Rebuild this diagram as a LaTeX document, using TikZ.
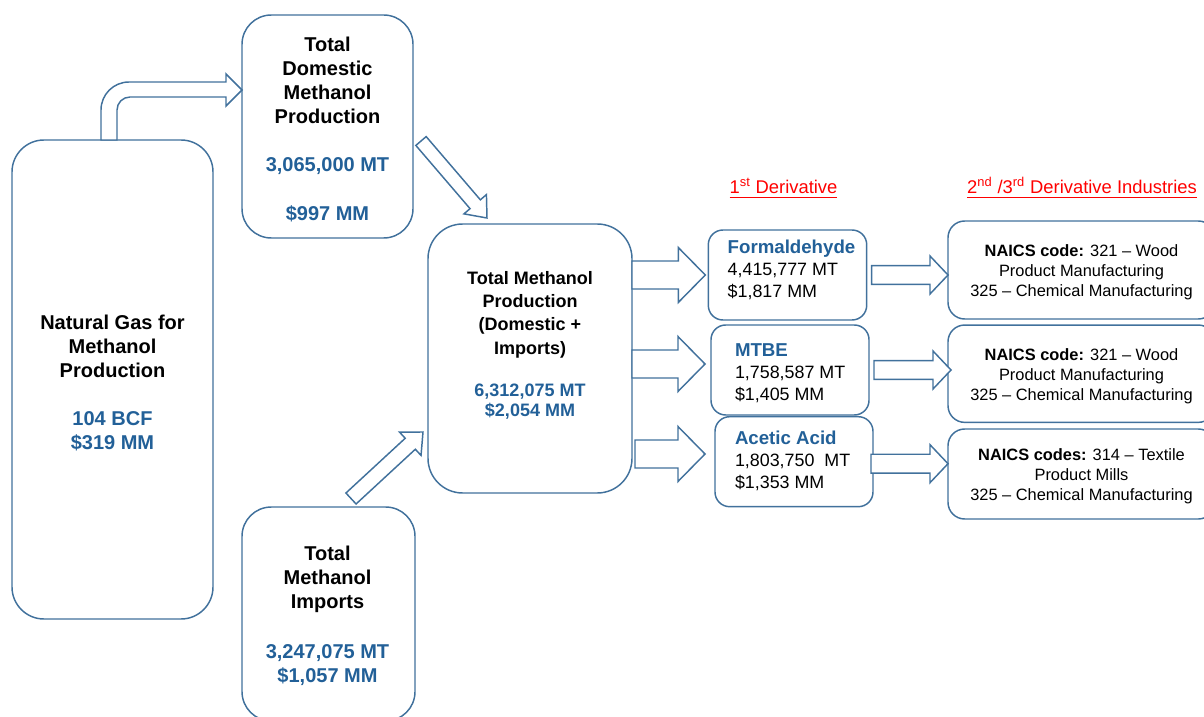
\documentclass[tikz,border=0pt]{standalone}
\usepackage{fontspec}
\setmainfont{Liberation Sans}
\usetikzlibrary{calc}

\definecolor{edgeblue}{RGB}{65,113,156}
\definecolor{valblue}{RGB}{34,96,152}
\definecolor{hdrred}{RGB}{255,0,0}

\tikzset{
  box/.style={draw=edgeblue, line width=1.1pt, fill=white, rectangle,
    inner sep=0pt, outer sep=0pt},
  txt/.style={inner sep=0pt, outer sep=0pt, align=center},
  arrowshape/.style={draw=edgeblue, line width=1.1pt, fill=white, line join=miter},
  bigtxt/.style={txt, font=\fontsize{15}{18}\selectfont\bfseries},
  midtxt/.style={txt, font=\fontsize{13.5}{17.5}\selectfont\bfseries},
  dertxt/.style={txt, align=left, anchor=west, font=\fontsize{13.4}{16.5}\selectfont},
  naicstxt/.style={txt, font=\fontsize{12.3}{15}\selectfont},
  hdrtxt/.style={inner sep=0pt, outer sep=0pt, anchor=base, text=hdrred,
    font=\fontsize{13.8}{16}\selectfont},
}

% straight block arrow: tail, tip, shaft half width, head half width, head length
\newcommand\blockarrow[5]{%
  \coordinate (ba-h) at ($(#2)!#5!(#1)$);
  \draw[arrowshape]
    ($(#1)!#3!90:(#2)$) -- ($(ba-h)!#3!90:(#2)$) -- ($(ba-h)!#4!90:(#2)$) -- (#2)
    -- ($(ba-h)!#4!-90:(#2)$) -- ($(ba-h)!#3!-90:(#2)$) -- ($(#1)!#3!-90:(#2)$) -- cycle;
}

\newcommand\val[1]{\textcolor{valblue}{#1}}

\begin{document}
\begin{tikzpicture}[x=0.75pt,y=-0.75pt]
\useasboundingbox (0,0) rectangle (1204,717);
\clip (0,0) rectangle (1204,717);

% ---- boxes ----
\node[box, rounded corners=24pt, minimum width=150.75pt, minimum height=359.25pt] (ng) at (112.5,379.5) {};
\node[box, rounded corners=22pt, minimum width=128.25pt, minimum height=167.25pt] (dom) at (327.5,126.5) {};
\node[box, rounded corners=22pt, minimum width=129.75pt, minimum height=160.5pt] (imp) at (328.5,614) {};
\node[box, rounded corners=26pt, minimum width=153pt, minimum height=201.75pt] (tot) at (530,358.5) {};

\node[box, rounded corners=11pt, minimum width=118.8pt, minimum height=67.5pt] (form) at (787.5,275) {};
\node[box, rounded corners=11pt, minimum width=118.5pt, minimum height=67.5pt] (mtbe) at (790,370) {};
\node[box, rounded corners=11pt, minimum width=118.5pt, minimum height=67.5pt] (acet) at (794,461.7) {};

\node[box, rounded corners=12.5pt, minimum width=200.25pt, minimum height=73.5pt] (n1) at (1081.5,270) {};
\node[box, rounded corners=12.5pt, minimum width=200.25pt, minimum height=73pt] (n2) at (1081.5,373.7) {};
\node[box, rounded corners=12.5pt, minimum width=200.25pt, minimum height=67.5pt] (n3) at (1081.5,474) {};

% ---- box texts ----
\node[bigtxt] (ngt) at (112.5,383) {Natural Gas for\\Methanol\\Production\\[18pt]\val{104 BCF}\\\val{\$319 MM}};
\node[bigtxt] (domt) at (327.5,129.5) {Total\\Domestic\\Methanol\\Production\\[18pt]\val{3,065,000 MT}\\[18.5pt]\val{\$997 MM}};
\node[bigtxt] (impt) at (327.5,616) {Total\\Methanol\\Imports\\[19.5pt]\val{3,247,075 MT}\\\val{\$1,057 MM}};
\node[midtxt] (tott) at (530,345) {Total Methanol\\Production\\(Domestic +\\Imports)\\[14pt]\val{6,312,075 MT}\\[-2.5pt]\val{\$2,054 MM}};

\node[dertxt] (formt) at (727.7,270) {{\fontsize{14}{16.5}\selectfont\bfseries\val{Formaldehyde}}\\4,415,777 MT\\\$1,817 MM};
\node[dertxt] (mtbet) at (735,373) {{\fontsize{14}{16.5}\selectfont\bfseries\val{MTBE}}\\1,758,587 MT\\\$1,405 MM};
\node[dertxt] (acett) at (735,460.5) {{\fontsize{14}{16.5}\selectfont\bfseries\val{Acetic Acid}}\\1,803,750~~MT\\\$1,353 MM};

\node[naicstxt] (n1t) at (1081.5,272) {\textbf{NAICS code:} 321 – Wood\\Product Manufacturing\\325 – Chemical Manufacturing};
\node[naicstxt] (n2t) at (1081.5,376) {\textbf{NAICS code:} 321 – Wood\\Product Manufacturing\\325 – Chemical Manufacturing};
\node[naicstxt] (n3t) at (1081.5,476) {\textbf{NAICS codes:} 314 – Textile\\Product Mills\\325 – Chemical Manufacturing};

% ---- column headings ----
\node[hdrtxt] (h1) at (783.5,193.5) {1\textsuperscript{st} Derivative};
\node[hdrtxt] (h2) at (1082,193.5) {2\textsuperscript{nd} /3\textsuperscript{rd} Derivative Industries};
\draw[hdrred, line width=0.9pt] ([yshift=-3.2pt]h1.base west) -- ([yshift=-3.2pt]h1.base east);
\draw[hdrred, line width=0.9pt] ([yshift=-3.2pt]h2.base west) -- ([yshift=-3.2pt]h2.base east);

% ---- bent arrow: natural gas -> domestic production ----
\draw[arrowshape] (101,140) -- (101,110) .. controls (101,94.5) and (113.5,82) .. (129,82)
  -- (226,82) -- (226,74) -- (242,90) -- (226,106) -- (226,97) -- (130,97)
  .. controls (122.8,97) and (117,102.8) .. (117,110) -- (117,140) -- cycle;

% ---- diagonal arrows into total production ----
\coordinate (c1t) at ($(dom.east)+(8,14.5)$);
\coordinate (c1h) at ($(tot.north)+(-43,-6)$);
\blockarrow{c1t}{c1h}{5.1pt}{11.1pt}{13.6pt}
\coordinate (c2t) at ($(imp.north)+(22.5,-8.5)$);
\coordinate (c2h) at ($(tot.west)+(-5,73.5)$);
\blockarrow{c2t}{c2h}{5.6pt}{11.9pt}{13pt}

% ---- total production -> first derivatives ----
\coordinate (a1h) at ($(form.west)+(-3,0)$);
\coordinate (a1t) at (tot.east |- a1h);
\blockarrow{a1t}{a1h}{10.5pt}{20.6pt}{20.25pt}
\coordinate (a2h) at ($(mtbe.west)+(-6,-6)$);
\coordinate (a2t) at (tot.east |- a2h);
\blockarrow{a2t}{a2h}{10.5pt}{20.6pt}{20.25pt}
\coordinate (a3h) at ($(acet.west)+(-10,-7.7)$);
\coordinate (a3t) at ($(tot.east |- a3h)+(3,0)$);
\blockarrow{a3t}{a3h}{10.5pt}{20.6pt}{20.25pt}

% ---- first derivatives -> industries ----
\coordinate (b1t) at ($(form.east)+(5,0)$);
\coordinate (b1h) at (n1.west |- b1t);
\blockarrow{b1t}{b1h}{7.1pt}{14.25pt}{13.5pt}
\coordinate (b2t) at ($(mtbe.east)+(5,0)$);
\coordinate (b2h) at ($(n2.west |- b2t)+(3,0)$);
\blockarrow{b2t}{b2h}{7.1pt}{14.25pt}{13.5pt}
\coordinate (b3t) at ($(acet.east)+(-2,2)$);
\coordinate (b3h) at (n3.west |- b3t);
\blockarrow{b3t}{b3h}{7.1pt}{14.25pt}{13.5pt}
\end{tikzpicture}
\end{document}
